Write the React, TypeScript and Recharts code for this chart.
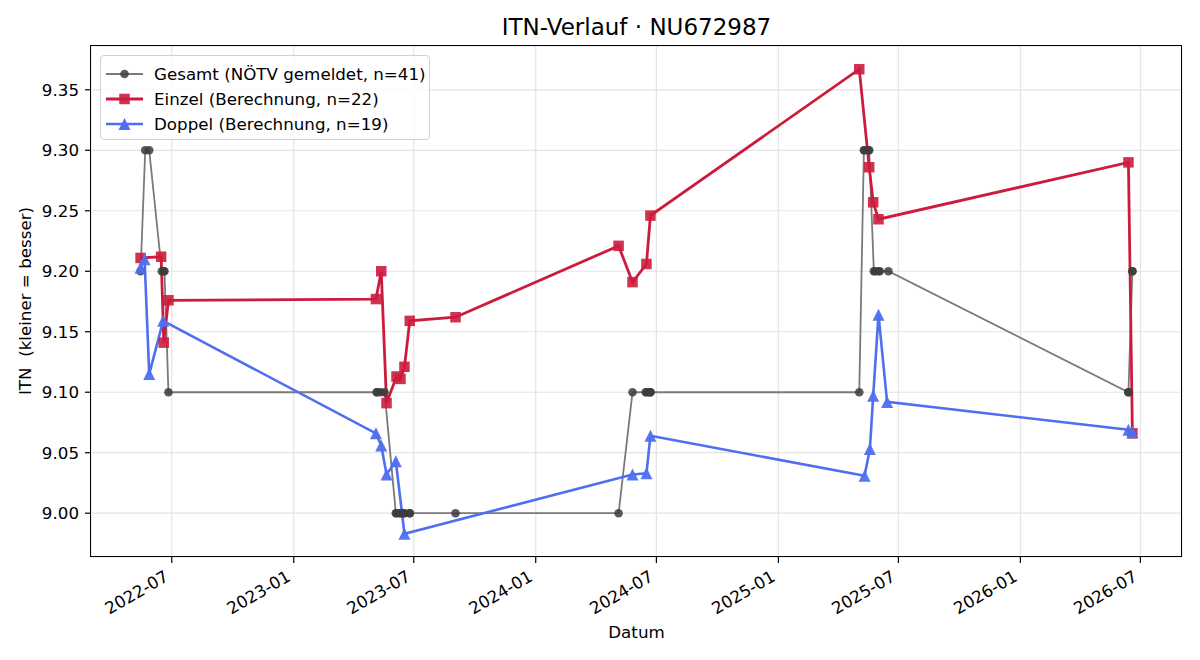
import React from 'react';
import { LineChart, Line, XAxis, YAxis, CartesianGrid } from 'recharts';

// Gesamt-ITN laut NÖTV (Schritte zu 0.1)
const gesamtDates = [
  '2022-05-15', '2022-05-22', '2022-05-28', '2022-06-16', '2022-06-19', '2022-06-20', '2022-06-26',
  '2023-05-06', '2023-05-07', '2023-05-12', '2023-05-18', '2023-06-04', '2023-06-05', '2023-06-10',
  '2023-06-11', '2023-06-16', '2023-06-17', '2023-06-25', '2023-06-25', '2023-09-02',
  '2024-05-05', '2024-05-26', '2024-06-15', '2024-06-16', '2024-06-20', '2024-06-22', '2024-06-22',
  '2025-05-03', '2025-05-10', '2025-05-11', '2025-05-17', '2025-05-18', '2025-05-25', '2025-05-27',
  '2025-06-01', '2025-06-03', '2025-06-16',
  '2026-06-13', '2026-06-13', '2026-06-19', '2026-06-19',
];
const gesamtItn = [
  9.2, 9.3, 9.3, 9.2, 9.2, 9.2, 9.1,
  9.1, 9.1, 9.1, 9.1, 9.0, 9.0, 9.0,
  9.0, 9.0, 9.0, 9.0, 9.0, 9.0,
  9.0, 9.1, 9.1, 9.1, 9.1, 9.1, 9.1,
  9.1, 9.3, 9.3, 9.3, 9.3, 9.2, 9.2,
  9.2, 9.2, 9.2,
  9.1, 9.1, 9.2, 9.2,
];

// Einzel-ITN (Berechnung)
const einzelDates = [
  '2022-05-15', '2022-06-15', '2022-06-19', '2022-06-26',
  '2023-05-05', '2023-05-13', '2023-05-21', '2023-06-05', '2023-06-11', '2023-06-17', '2023-06-25', '2023-09-02',
  '2024-05-05', '2024-05-26', '2024-06-16', '2024-06-22',
  '2025-05-03', '2025-05-18', '2025-05-24', '2025-06-01',
  '2026-06-13', '2026-06-19',
];
const einzelItn = [
  9.211, 9.212, 9.141, 9.176,
  9.177, 9.200, 9.091, 9.113, 9.111, 9.121, 9.159, 9.162,
  9.221, 9.191, 9.206, 9.246,
  9.367, 9.286, 9.257, 9.243,
  9.290, 9.066,
];

// Doppel-ITN (Berechnung)
const doppelDates = [
  '2022-05-15', '2022-05-21', '2022-05-28', '2022-06-18',
  '2023-05-05', '2023-05-13', '2023-05-21', '2023-06-04', '2023-06-17',
  '2024-05-26', '2024-06-16', '2024-06-22',
  '2025-05-11', '2025-05-19', '2025-05-24', '2025-06-01', '2025-06-14',
  '2026-06-13', '2026-06-19',
];
const doppelItn = [
  9.203, 9.210, 9.115, 9.159,
  9.066, 9.056, 9.032, 9.043, 8.983,
  9.032, 9.033, 9.064,
  9.031, 9.053, 9.097, 9.164, 9.092,
  9.069, 9.067,
];

const xTickDates = [
  '2022-07-01', '2023-01-01', '2023-07-01', '2024-01-01', '2024-07-01',
  '2025-01-01', '2025-07-01', '2026-01-01', '2026-07-01',
];
const yTicks = [9.0, 9.05, 9.1, 9.15, 9.2, 9.25, 9.3, 9.35];

const toPoints = (dates: string[], values: number[]) =>
  dates.map((d, i) => ({ t: Date.parse(d), v: values[i] }));

const gesamt = toPoints(gesamtDates, gesamtItn);
const einzel = toPoints(einzelDates, einzelItn);
const doppel = toPoints(doppelDates, doppelItn);
const xTicks = xTickDates.map((d) => Date.parse(d));

// 5 % Rand wie bei matplotlib-Autoscale
const all = [...gesamt, ...einzel, ...doppel];
const pad = (lo: number, hi: number): [number, number] => {
  const m = (hi - lo) * 0.05;
  return [lo - m, hi + m];
};
const xDomain = pad(Math.min(...all.map((p) => p.t)), Math.max(...all.map((p) => p.t)));
const yDomain = pad(Math.min(...all.map((p) => p.v)), Math.max(...all.map((p) => p.v)));

const FONT = '"DejaVu Sans", sans-serif';
const FS = 16.7;
const colors = {
  grayLine: '#7a7a7a',
  grayDot: '#3c3c3c',
  red: '#cc1c3c',
  blue: '#4f6ff0',
};

const fmtMonth = (t: number) => {
  const d = new Date(t);
  return `${d.getUTCFullYear()}-${String(d.getUTCMonth() + 1).padStart(2, '0')}`;
};

const DateTick = ({ x, y, payload }: any) => (
  <g transform={`translate(${x - 2},${y + 11})`}>
    <text x={0} y={0} textAnchor="end" transform="rotate(-30)" fill="#000" fontSize={FS} fontFamily={FONT}>
      {fmtMonth(payload.value)}
    </text>
  </g>
);

const circleDot = (props: any) => {
  const { cx, cy, index } = props;
  return <circle key={`g${index}`} cx={cx} cy={cy} r={4.3} fill={colors.grayDot} fillOpacity={0.85} />;
};
const squareDot = (props: any) => {
  const { cx, cy, index } = props;
  const s = 10.5;
  return <rect key={`e${index}`} x={cx - s / 2} y={cy - s / 2} width={s} height={s} fill={colors.red} fillOpacity={0.9} />;
};
const triangleDot = (props: any) => {
  const { cx, cy, index } = props;
  const h = 6;
  return (
    <polygon
      key={`d${index}`}
      points={`${cx},${cy - h} ${cx - h},${cy + h} ${cx + h},${cy + h}`}
      fill={colors.blue}
      fillOpacity={0.95}
    />
  );
};

const legendItems = [
  { label: 'Gesamt (NÖTV gemeldet, n=41)', line: colors.grayLine, width: 1.8, marker: 'circle' },
  { label: 'Einzel (Berechnung, n=22)', line: colors.red, width: 2.8, marker: 'square' },
  { label: 'Doppel (Berechnung, n=19)', line: colors.blue, width: 2.6, marker: 'triangle' },
];

const LegendIcon = ({ item }: any) => (
  <svg width={40} height={20} style={{ display: 'block' }}>
    <line x1={2} y1={10} x2={39} y2={10} stroke={item.line} strokeWidth={item.width} />
    {item.marker === 'circle' && <circle cx={20.5} cy={10} r={4.3} fill={colors.grayDot} fillOpacity={0.85} />}
    {item.marker === 'square' && <rect x={15.25} y={4.75} width={10.5} height={10.5} fill={colors.red} fillOpacity={0.9} />}
    {item.marker === 'triangle' && <polygon points="20.5,4 14.5,16 26.5,16" fill={colors.blue} />}
  </svg>
);

export default function App() {
  return (
    <div style={{ position: 'absolute', left: 0, top: 0, width: 1200, height: 660, background: '#fff', fontFamily: FONT }}>
      <div style={{ position: 'absolute', left: 91, top: 14, width: 1091, textAlign: 'center', fontSize: 23, color: '#000' }}>
        ITN-Verlauf · NU672987
      </div>

      <LineChart width={1200} height={660} margin={{ top: 46, right: 18, bottom: 0, left: 0 }}>
        <CartesianGrid stroke="#e4e4e4" strokeWidth={1.2} />
        <XAxis
          dataKey="t"
          type="number"
          domain={xDomain}
          allowDataOverflow
          ticks={xTicks}
          interval={0}
          height={103}
          axisLine={false}
          tickLine={{ stroke: '#000', strokeWidth: 1.2 }}
          tickSize={6}
          tickMargin={6}
          tick={<DateTick />}
        />
        <YAxis
          dataKey="v"
          type="number"
          domain={yDomain}
          allowDataOverflow
          ticks={yTicks}
          interval={0}
          width={91}
          axisLine={false}
          tickLine={{ stroke: '#000', strokeWidth: 1.2 }}
          tickSize={6}
          tickMargin={6}
          tickFormatter={(v: number) => v.toFixed(2)}
          tick={{ fill: '#000', fontSize: FS, fontFamily: FONT }}
        />
        <Line
          data={gesamt}
          dataKey="v"
          type="linear"
          stroke={colors.grayLine}
          strokeWidth={1.8}
          dot={circleDot}
          activeDot={false}
          isAnimationActive={false}
        />
        <Line
          data={einzel}
          dataKey="v"
          type="linear"
          stroke={colors.red}
          strokeWidth={2.8}
          dot={squareDot}
          activeDot={false}
          isAnimationActive={false}
        />
        <Line
          data={doppel}
          dataKey="v"
          type="linear"
          stroke={colors.blue}
          strokeWidth={2.6}
          dot={triangleDot}
          activeDot={false}
          isAnimationActive={false}
        />
      </LineChart>

      {/* Achsenrahmen */}
      <div style={{ position: 'absolute', left: 90, top: 45, width: 1092, height: 512, border: '1.3px solid #000', boxSizing: 'border-box', pointerEvents: 'none' }} />

      {/* Legende */}
      <div
        style={{
          position: 'absolute', left: 100, top: 55, width: 330, height: 85, boxSizing: 'border-box',
          border: '1px solid #d0d0d0', borderRadius: 4, background: 'rgba(255,255,255,0.8)', paddingTop: 5,
        }}
      >
        {legendItems.map((item) => (
          <div key={item.label} style={{ display: 'flex', alignItems: 'center', height: 25 }}>
            <div style={{ marginLeft: 3, width: 50 }}>
              <LegendIcon item={item} />
            </div>
            <span style={{ fontSize: FS, color: '#000', whiteSpace: 'pre' }}>{item.label}</span>
          </div>
        ))}
      </div>

      <div style={{ position: 'absolute', left: 91, top: 622, width: 1091, textAlign: 'center', fontSize: FS, color: '#000' }}>
        Datum
      </div>
      <div
        style={{
          position: 'absolute', left: 25, top: 301, transform: 'translate(-50%, -50%) rotate(-90deg)',
          fontSize: FS, color: '#000', whiteSpace: 'pre',
        }}
      >
        ITN  (kleiner = besser)
      </div>
    </div>
  );
}
